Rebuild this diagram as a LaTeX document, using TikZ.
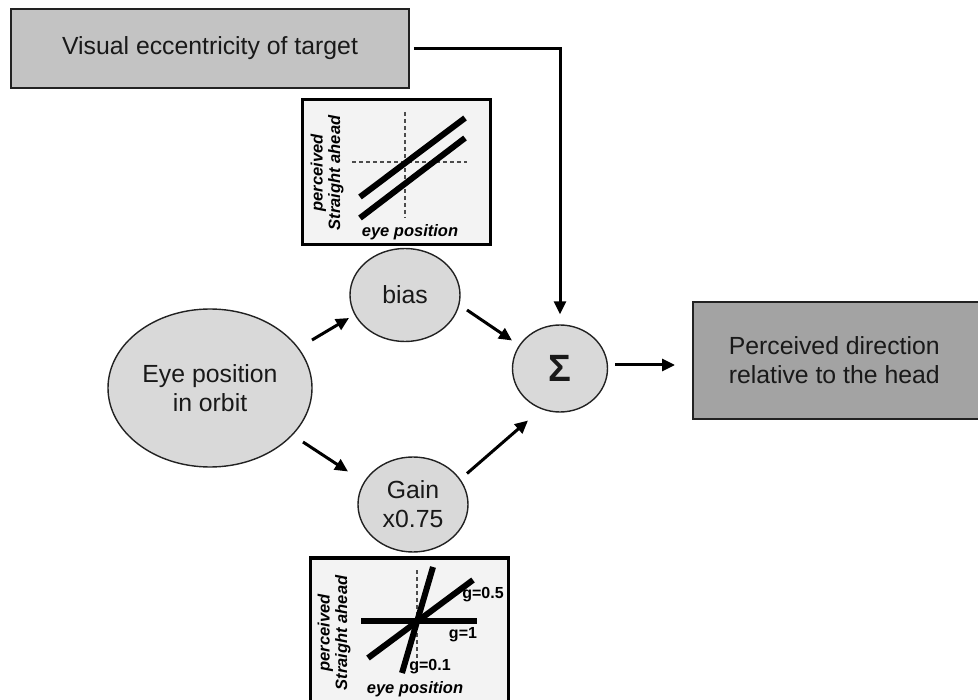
\documentclass[tikz,border=0pt]{standalone}
\usepackage{fontspec}
\setmainfont{Liberation Sans}
\usetikzlibrary{shapes.geometric,arrows.meta,calc}
\definecolor{visgray}{HTML}{C3C3C3}
\definecolor{ellgray}{HTML}{D9D9D9}
\definecolor{outgray}{HTML}{A3A3A3}
\definecolor{plotbg}{HTML}{F3F3F3}
\definecolor{edgecol}{HTML}{222222}
\begin{document}
\begin{tikzpicture}[x=1pt,y=-1pt,
  lbl/.style={font=\fontsize{24.8}{29}\selectfont, align=center, text=black!90},
  ebox/.style={ellipse, draw=edgecol, line width=1.4pt, fill=ellgray, inner sep=0pt, lbl},
  rbox/.style={draw=edgecol, line width=1.5pt, inner sep=0pt, lbl},
  arr/.style={line width=3pt, -{Triangle[length=13pt,width=12pt]}},
  plotframe/.style={draw=black, line width=3pt, fill=plotbg},
  thickln/.style={line width=6pt},
  dashln/.style={line width=1.3pt, dash pattern=on 4pt off 3pt, draw=black!70},
  axlbl/.style={font=\fontsize{16.5}{17.5}\selectfont\bfseries\itshape, align=center},
  glbl/.style={font=\fontsize{16}{18}\selectfont\bfseries, inner sep=0pt}]

\useasboundingbox (0,0) rectangle (978,700);
\clip (0,0) rectangle (978,700);

% top input box
\node[rbox, fill=visgray, minimum width=398pt, minimum height=79pt] (vis) at (210,48.5) {Visual eccentricity of target};

% top plot (bias)
\draw[plotframe] (302,100) rectangle (490,245);
\draw[dashln] (405,112) -- (405,218);
\draw[dashln] (352,162) -- (467,162);
\draw[thickln] (360,197) -- (465,118);
\draw[thickln] (360,218) -- (465,138);
\node[axlbl, rotate=90] at (327,173) {perceived\\Straight ahead};
\node[axlbl] at (410,232) {eye position};

% bottom plot (gain)
\draw[plotframe] (310,558) rectangle (508,730);
\draw[dashln] (417,570) -- (417,673);
\draw[thickln] (361,621) -- (477,621);
\draw[thickln] (368,658) -- (473,580);
\draw[thickln] (402,673) -- (433,567);
\node[glbl] at (483,595) {g=0.5};
\node[glbl] at (463,635) {g=1};
\node[glbl] at (430,667) {g=0.1};
\node[axlbl, rotate=90] at (334,633) {perceived\\Straight ahead};
\node[axlbl] at (415,689) {eye position};

% ellipses
\node[ebox, minimum width=204pt, minimum height=158pt] (eye) at (210,388) {Eye position\\in orbit};
\node[ebox, minimum width=110pt, minimum height=93pt] (bias) at (405,295) {bias};
\node[ebox, minimum width=110pt, minimum height=95pt] (gain) at (413,504.5) {Gain\\x0.75};
\node[ebox, minimum width=95pt, minimum height=87pt, font=\fontsize{38}{38}\selectfont\bfseries] (sig) at (560,368.5) {Σ};

% output box
\node[rbox, fill=outgray, minimum width=296pt, minimum height=117pt, anchor=west] (out) at (692,360.5) {Perceived direction\hspace*{13pt}\\relative to the head\hspace*{13pt}};

% connectors
\draw[arr, shorten <=4pt, shorten >=10pt] (vis.east) -| (sig.north);
\draw[arr] ($(eye.center)+(102,-48)$) -- ($(bias.center)+(-56,23)$);
\draw[arr] ($(eye.center)+(93,54)$) -- ($(gain.center)+(-65,-33)$);
\draw[arr] ($(bias.center)+(62,15)$) -- ($(sig.center)+(-48,-28)$);
\draw[arr] ($(gain.center)+(54,-31)$) -- ($(sig.center)+(-32,52)$);
\draw[arr] ($(sig.center)+(55,-3.5)$) -- ($(out.west)+(-17,4.5)$);
\end{tikzpicture}
\end{document}
